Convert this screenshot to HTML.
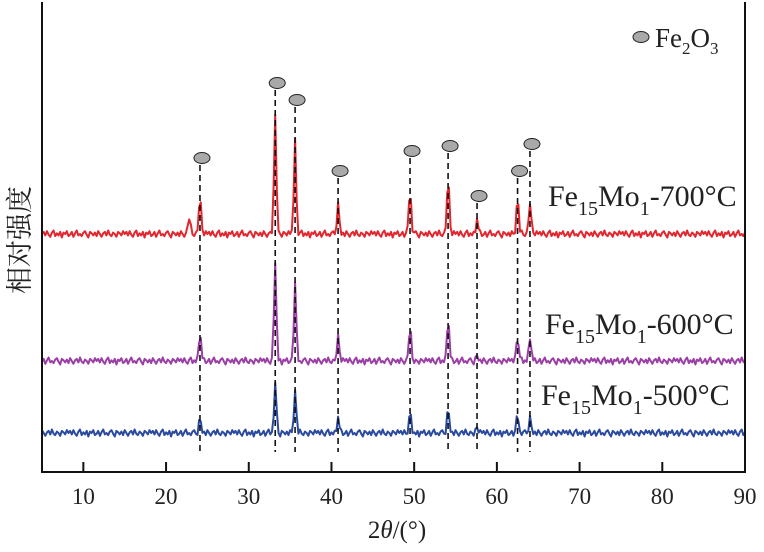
<!DOCTYPE html>
<html><head><meta charset="utf-8"><style>
body{margin:0;background:#fff}
svg text{font-family:"Liberation Serif","Noto Serif CJK SC",serif;fill:#222}
</style></head><body>
<svg id="chart" width="764" height="547" viewBox="0 0 764 547">
<g id="plot"></g>
</svg>
<script>
const xTicks=[10,20,30,40,50,60,70,80,90];
const sampleNames=["Fe15Mo1-700°C","Fe15Mo1-600°C","Fe15Mo1-500°C"];
const baselines=[238,111,39];
const peakPositions=[22.8,24.1,33.2,35.6,40.8,49.5,54.1,57.6,62.5,64.0];
const peaks700=[16,38,120,93,30,45,57,14,35,33];
const peaks600=[0,28,100,78,25,33,43,5,25,25];
const peaks500=[0,14,49,42,15,19,24,5,17,15];
const noise=[0,3,-2,4,-1,-4,2,5,-3,1,-2,3,-5,2,0,4,-3,-1,3,-4,1,5,-2,0,-3,2,4,-1,-5,3,1,-2,2,-3,4,0,-4,1,3,-2,5,-1,-3,2,0,-4,3,1,-2,4];
const markerPositions=[24.1,33.2,35.6,40.8,49.5,54.1,57.6,62.5,64.0];
const markerHeights=[314,389,372,301,321,326,276,301,328];
const colors=["#e3262e","#9b3fa6","#2a4aa0"];
const X0=42,X1=745,Y0=472;
const xs=v=>X0+(v-5)*(X1-X0)/85;
const ys=v=>Y0-v;
const NS="http://www.w3.org/2000/svg";
const g=document.getElementById('plot');
function mk(t,a){const e=document.createElementNS(NS,t);for(const k in a)e.setAttribute(k,a[k]);g.appendChild(e);return e;}
const seriesPeaks=[peaks700,peaks600,peaks500];
seriesPeaks.forEach((pk,si)=>{
 let d="";
 for(let i=0;i<=425;i++){
  const t=5+i*0.2;
  let v=baselines[si]+noise[(i+si*17)%noise.length]*0.7;
  peakPositions.forEach((p,j)=>{v+=pk[j]*Math.exp(-Math.pow((t-p)/0.2,2));});
  d+=(i?"L":"M")+xs(t).toFixed(1)+","+ys(v).toFixed(1);
 }
 const e=mk('path',{d:d,fill:'none',stroke:colors[si],'stroke-width':2,'stroke-linejoin':'round'});
 
 
});
markerPositions.forEach((p,i)=>{
 const l=mk('line',{x1:xs(p),x2:xs(p),y1:ys(markerHeights[i])+7,y2:452,stroke:'#111','stroke-width':1.6,'stroke-dasharray':'6,4'});
 
 
 const c=mk('ellipse',{cx:xs(p)+2,cy:ys(markerHeights[i]),rx:8,ry:5.5,fill:'#a9a9a9',stroke:'#222','stroke-width':1});
 
 
});
const ax=mk('path',{d:`M${X0},2 V${Y0} H${X1} V2`,fill:'none',stroke:'#111','stroke-width':2});


xTicks.forEach(t=>{
 const tk=mk('line',{x1:xs(t),x2:xs(t),y1:Y0,y2:Y0-10,stroke:'#111','stroke-width':2});
 
 
 const tx=mk('text',{x:xs(t),y:504,'text-anchor':'middle','font-size':23});
 tx.textContent=t;
 
 
});
</script>
<svg width="764" height="547" style="position:absolute;left:0;top:0">
<text x="397" y="538" text-anchor="middle" font-size="25">2<tspan font-style="italic">θ</tspan>/(°)</text>
<text transform="translate(29,240) rotate(-90)" text-anchor="middle" font-size="27">相对强度</text>
<ellipse cx="641" cy="37" rx="8" ry="5.5" fill="#a9a9a9" stroke="#222"/>
<text x="655" y="47" font-size="27">Fe<tspan font-size="17" dy="7">2</tspan><tspan dy="-7">O</tspan><tspan font-size="17" dy="7">3</tspan></text>
<text x="548" y="206" font-size="30">Fe<tspan font-size="20" dy="9">15</tspan><tspan dy="-9">Mo</tspan><tspan font-size="20" dy="9">1</tspan><tspan dy="-9">-700°C</tspan></text>
<text x="545" y="334" font-size="30">Fe<tspan font-size="20" dy="9">15</tspan><tspan dy="-9">Mo</tspan><tspan font-size="20" dy="9">1</tspan><tspan dy="-9">-600°C</tspan></text>
<text x="541" y="405" font-size="30">Fe<tspan font-size="20" dy="9">15</tspan><tspan dy="-9">Mo</tspan><tspan font-size="20" dy="9">1</tspan><tspan dy="-9">-500°C</tspan></text>
</svg>
</body></html>
